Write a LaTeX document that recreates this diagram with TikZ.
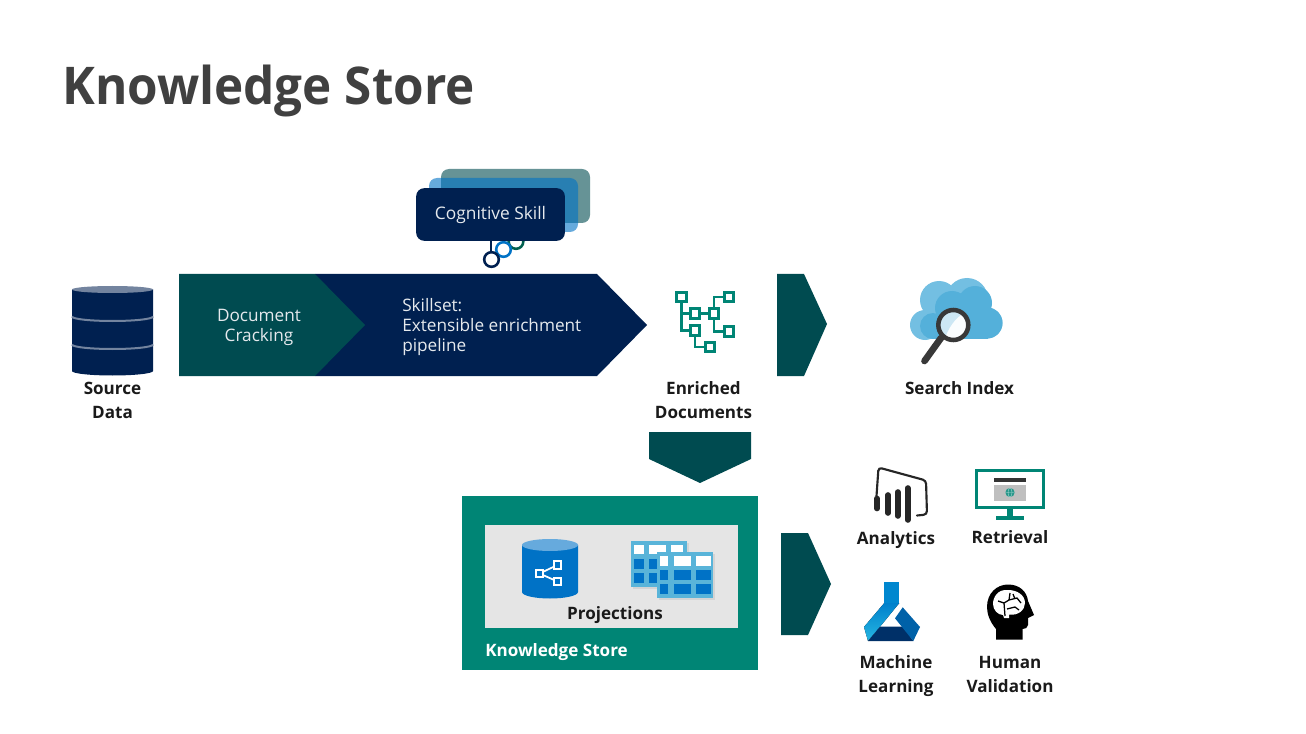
\documentclass[tikz,border=0pt]{standalone}
\usepackage{fontspec}
\setmainfont{Open Sans}
\newfontfamily\titlefont[FakeStretch=0.95]{Open Sans Bold}
\usetikzlibrary{calc}
\definecolor{navy}{HTML}{002050}
\definecolor{deepteal}{HTML}{004B50}
\definecolor{midteal}{HTML}{00604F}
\definecolor{green}{HTML}{008575}
\definecolor{skyA}{HTML}{73BFE2}
\definecolor{skyB}{HTML}{54B0DA}
\definecolor{azure}{HTML}{0072C6}
\definecolor{tabsky}{HTML}{59B4D9}
\definecolor{ink}{HTML}{1A1A1A}
\tikzset{
  x=0.75pt,y=-0.75pt,
  lbl/.style={font=\fontsize{12.8pt}{18pt}\selectfont\bfseries,text=ink,align=center,inner sep=0pt},
  wlbl/.style={font=\fontsize{12.9pt}{15pt}\selectfont,text=white!90!navy,align=left,inner sep=0pt},
  sbox/.style={fill=white,draw=green,line width=2.2pt,minimum size=7pt,inner sep=0pt},
  wire/.style={draw=green,line width=2.2pt},
  ring/.style={circle,fill=white,line width=1.9pt,minimum size=11pt,inner sep=0pt},
  card/.style={rounded corners=6pt},
}
\begin{document}
\begin{tikzpicture}
\useasboundingbox (0,0) rectangle (1306,734);
\fill[white] (0,0) rectangle (1306,734);
\node[anchor=west,inner sep=0pt,text=black!75,font=\titlefont\fontsize{39pt}{44pt}\selectfont] (title) at (62,91) {Knowledge Store};

% cognitive skill
\coordinate (wire1) at (491,240);
\node[ring,draw=midteal] (r3) at (516,241.5) {};
\node[ring,draw=azure] (r2) at (503.5,249.5) {};
\draw[navy,line width=1.7pt] (wire1) -- (491,253);
\node[ring,draw=navy] (r1) at (491.5,259.5) {};
\fill[deepteal!60!white,card] (441,169) rectangle (590,223);
\fill[azure,opacity=.6,card] (429,178) rectangle (578,232);
\node[fill=navy,card,minimum width=111.5pt,minimum height=39.5pt,inner sep=0pt,text=white!90!navy,font=\fontsize{13pt}{16pt}\selectfont] (skill) at (490.5,214.5) {\raisebox{-1.4pt}{Cognitive Skill}};

% pipeline
\fill[navy] (315,274) -- (597,274) -- (647,325) -- (597,376) -- (315,376) -- cycle;
\fill[deepteal] (179,274) -- (315,274) -- (365,325) -- (315,376) -- (179,376) -- cycle;
\node[wlbl,align=center] (crack) at (259,327) {Document\\Cracking};
\node[wlbl,anchor=west] (skillset) at (402,327) {Skillset:\\Extensible enrichment\\pipeline};

% source data
\fill[navy] (72,289.5) -- (72,371) arc[start angle=180,end angle=0,x radius=40.5,y radius=4.5] -- (153,289.5) -- cycle;
\fill[navy!55!white] (112.5,289.5) ellipse[x radius=40.5,y radius=3.5];
\draw[navy!55!white,line width=1.5pt] (72,316.5) arc[start angle=180,end angle=0,x radius=40.5,y radius=4.5];
\draw[navy!55!white,line width=1.5pt] (72,344.5) arc[start angle=180,end angle=0,x radius=40.5,y radius=4.5];
\node[lbl] (src) at (112.5,400) {Source\\Data};

% enriched docs icon
\coordinate (t1) at (681.5,297);
\coordinate (t2) at (695,313.5);
\coordinate (t3) at (714,313.5);
\coordinate (t4) at (729,297);
\coordinate (t5) at (729,331.5);
\coordinate (t6) at (695,330.5);
\coordinate (t7) at (710,347);
\draw[wire] (t1) -- (t1|-t2) -- (t2);
\draw[wire] (t1|-t2) -- (t1|-t6) -- (t6);
\draw[wire] (t2) -- (t3);
\draw[wire] (t3) -- (t3|-t4) -- (t4);
\draw[wire] (t3) -- (t3|-t5) -- (t5);
\draw[wire] (t6) -- (t6|-t7) -- (t7);
\foreach \n in {t1,t2,t3,t4,t5,t6,t7} \node[sbox] at (\n) {};
\node[lbl] (enr) at (703.5,400) {Enriched\\Documents};

% chevrons
\fill[deepteal] (777,274) -- (804,274) -- (827,324) -- (804,376) -- (777,376) -- cycle;
\fill[deepteal] (649,432) -- (751,432) -- (751,459) -- (700,483) -- (649,459) -- cycle;
\fill[deepteal] (781,533) -- (808,533) -- (831,584) -- (808,635) -- (781,635) -- cycle;

% search index icon
\foreach \c/\r in {{(925,325)}/15,{(939,300)}/19,{(967,299)}/21,{(987,323)}/15.5}
  \fill[skyA] \c circle (\r);
\fill[skyA] (925,318) rectangle (988,339);
\fill[skyA] (930,305) rectangle (980,325);
\foreach \c/\r in {{(933,326)}/13,{(952,308)}/17,{(975,303)}/17,{(987,323)}/15.5}
  \fill[skyB] \c circle (\r);
\fill[skyB] (935,320) rectangle (988,339);
\fill[skyB] (945,300) rectangle (975,325);
\draw[black!78,line width=5pt,line cap=round] (941,338) -- (924.5,361);
\begin{scope}
\clip (953.3,325) circle (15);
\fill[white!97!skyB] (938,310) rectangle (969,341);
\fill[white!70!skyB] (938,310) -- (969,310) -- (964,313) .. controls (955,318) and (948,328) .. (944,341) -- (938,341) -- cycle;
\end{scope}
\draw[black!78,line width=3.4pt] (953.3,325) circle (15);
\node[lbl] (idx) at (959.5,388) {Search Index};

% knowledge store
\fill[green] (462,496) rectangle (758,670);
\fill[black!10] (485,525) rectangle (738,628);
\node[lbl,text=white,anchor=west] (ks) at (485,652) {Knowledge Store};
\node[lbl] (proj) at (615,615) {Projections};

% db icon
\fill[azure] (522,545) -- (522,592) arc[start angle=180,end angle=0,x radius=28,y radius=6.5] -- (578,545) -- cycle;
\fill[azure!60!white] (550,545) ellipse[x radius=28,y radius=6];
\draw[white,line width=1.3pt] (539.5,573.5) -- (557.5,565) (539.5,573.5) -- (557.5,581.5);
\foreach \p in {(539.5,573.5),(557.5,565),(557.5,581.5)}
  \node[draw=white,fill=azure,line width=1.3pt,minimum size=5.6pt,inner sep=0pt] at \p {};

% tables icon
\fill[black!17] (633,543) rectangle (689,589);
\fill[tabsky] (631,541) rectangle (687,587);
\foreach \x/\w in {634/10,649/17,671/12}{
  \fill[white] (\x,545) rectangle +(\w,9);
  \fill[azure] (\x,559) rectangle +(\w,10);
  \fill[azure] (\x,573) rectangle +(\w,10);
}
\fill[black!17] (659,554) rectangle (715,600);
\fill[tabsky] (657,552) rectangle (713,598);
\foreach \x/\w in {660/8,674/17,696/15}{
  \fill[white] (\x,556) rectangle +(\w,9.5);
  \fill[azure] (\x,570) rectangle +(\w,10);
  \fill[azure] (\x,584) rectangle +(\w,10);
}

% analytics icon
\draw[black!85,line width=1.6pt,line cap=round,rounded corners=2.5pt] (876.5,496) -- (878.5,467.5) -- (926,480.5) -- (927,514.5) -- (917,515.5);
\foreach \x/\a/\b in {877/498.5/508.5,888/495/513,897.7/492/516,907.7/488/520}
  \draw[black!85,line width=4.2pt,line cap=round] (\x,\a) -- (\x,\b);
\node[lbl] (ana) at (896,540) {Analytics};

% retrieval icon
\draw[green,line width=2.6pt] (976.7,470.7) rectangle (1043.3,507.5);
\fill[green] (1007,509) rectangle (1013,517);
\fill[green] (996,516) rectangle (1024,519.5);
\fill[black!80] (994,478.3) rectangle (1026,482);
\fill[black!25] (994,484.5) rectangle (1026,501);
\fill[green!85!white] (1010,492.5) circle (4.6);
\draw[white!70!green,line width=.25pt] (1010,492.5) ellipse[x radius=2,y radius=4.6] (1005.4,492.5) -- (1014.6,492.5);
\node[lbl] (ret) at (1010,537) {Retrieval};

% machine learning icon
\fill[azure!85!cyan] (884.3,582.3) rectangle (899.3,604);
\fill[bottom color=cyan!40!azure!85!white,top color=azure!90!cyan] (884.3,603) -- (899.3,603) -- (880,626.7) -- (868,641) -- (864,627) -- cycle;
\fill[navy!80!azure] (868,641) -- (880,626.7) -- (903.3,626.7) -- (913.3,641) -- cycle;
\fill[azure!85!black] (902.7,607.3) -- (920,627) -- (913.3,641) -- (895,618.3) -- cycle;
\node[lbl] (ml) at (896,676) {Machine\\Learning};

% human validation icon
\fill[black] (996,639.5) -- (996,629) .. controls (990,622) and (987,614) .. (987,607) .. controls (987,593) and (997,584.5) .. (1008,584.5) .. controls (1020,584.5) and (1027,592) .. (1028,601) -- (1034,615) -- (1028,618) -- (1028,625) .. controls (1028,628) and (1025,629) .. (1022.5,629) -- (1022.5,639.5) -- cycle;
\fill[white] (1008,590) .. controls (997,589) and (993,598) .. (993,604) .. controls (993,610) and (998,615) .. (1003,615) -- (1004,618) -- (1009,618) -- (1009,614.5) .. controls (1018,616) and (1025,610) .. (1025,603) .. controls (1025,595) and (1017,590) .. (1008,590) -- cycle;
\draw[black,line width=.95pt] (998,601) -- (1004,603) -- (1009,600) -- (1010,593) (1004,603) -- (1005,616) (1009,600) -- (1017,598) -- (1021,603) (1013,594) -- (1015,599) (1007,609) -- (1015,607) -- (1019,610);
\node[lbl] (hv) at (1010,674) {Human\\Validation};
\end{tikzpicture}
\end{document}
